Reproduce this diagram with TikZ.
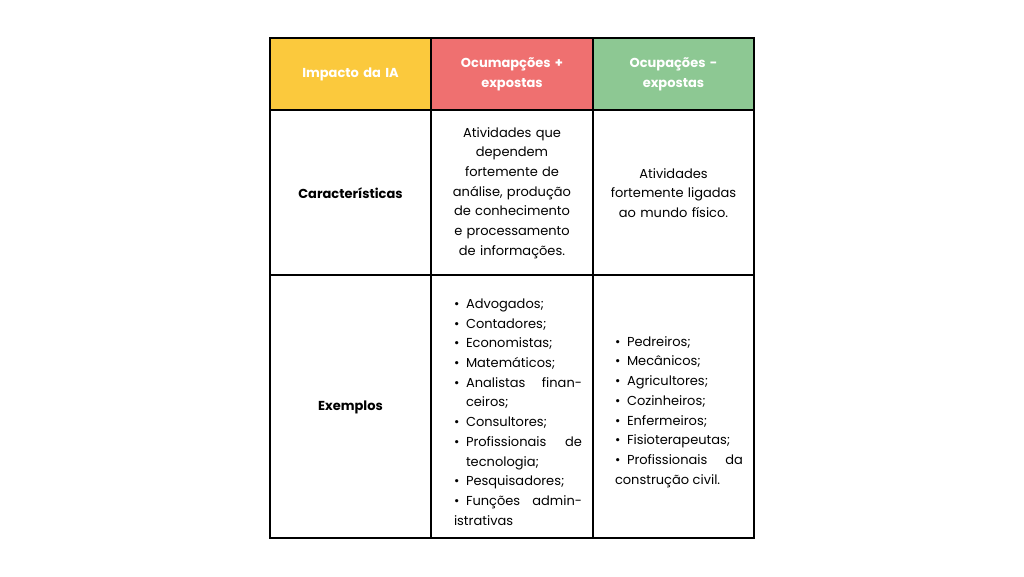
\documentclass[tikz,border=0pt]{standalone}
\usepackage{fontspec}
\setmainfont{Poppins}
\newcommand{\bitem}[1]{\par\noindent\hangindent=12pt\hangafter=1\makebox[12pt][l]{•}#1}
\begin{document}
\begin{tikzpicture}[x=1pt,y=-1pt,
  cell/.style={draw=black,line width=1.3pt},
  hdr/.style={font=\fontsize{13}{19.7}\selectfont\bfseries,text=white,align=center,text width=130pt},
  body/.style={font=\fontsize{13}{19.7}\selectfont,align=center,text width=140pt},
  lst/.style={font=\fontsize{13}{19.7}\selectfont,align=justify,text width=128pt,inner sep=0pt}]
\useasboundingbox (0,0) rectangle (1024,576);
\fill[white] (0,0) rectangle (1024,576);
\fill[cell,fill={rgb,255:red,251;green,201;blue,61}] (270,38) rectangle (431,110);
\fill[cell,fill={rgb,255:red,239;green,112;blue,112}] (431,38) rectangle (593,110);
\fill[cell,fill={rgb,255:red,141;green,200;blue,147}] (593,38) rectangle (754,110);
\draw[cell] (270,38) rectangle (754,538);
\draw[cell] (270,110) -- (754,110);
\draw[cell] (270,275) -- (754,275);
\draw[cell] (431,38) -- (431,538);
\draw[cell] (593,38) -- (593,538);
\node[hdr] (h1) at (350.5,74) {Impacto da IA};
\node[hdr] (h2) at (512,74) {Ocumapções +\\expostas};
\node[hdr] (h3) at (673.5,74) {Ocupações -\\expostas};
\node[body,font=\fontsize{13}{19.7}\selectfont\bfseries] (c1) at (350.5,193) {Características};
\node[body] (c2) at (512,193) {Atividades que\\dependem\\fortemente de\\análise, produção\\de conhecimento\\e processamento\\de informações.};
\node[body] (c3) at (673.5,193) {Atividades\\fortemente ligadas\\ao mundo físico.};
\node[body,font=\fontsize{13}{19.7}\selectfont\bfseries] (e1) at (350.5,407) {Exemplos};
\node[lst] (e2) at (518,407) {\bitem{Advogados;}\bitem{Contadores;}\bitem{Economistas;}\bitem{Matemáticos;}\bitem{Analistas financeiros;}\bitem{Consultores;}\bitem{Profissionais de tecnologia;}\bitem{Pesquisadores;}\bitem{Funções administrativas}};
\node[lst] (e3) at (679,407) {\bitem{Pedreiros;}\bitem{Mecânicos;}\bitem{Agricultores;}\bitem{Cozinheiros;}\bitem{Enfermeiros;}\bitem{Fisioterapeutas;}\bitem{Profissionais da construção civil.}};
\end{tikzpicture}
\end{document}
